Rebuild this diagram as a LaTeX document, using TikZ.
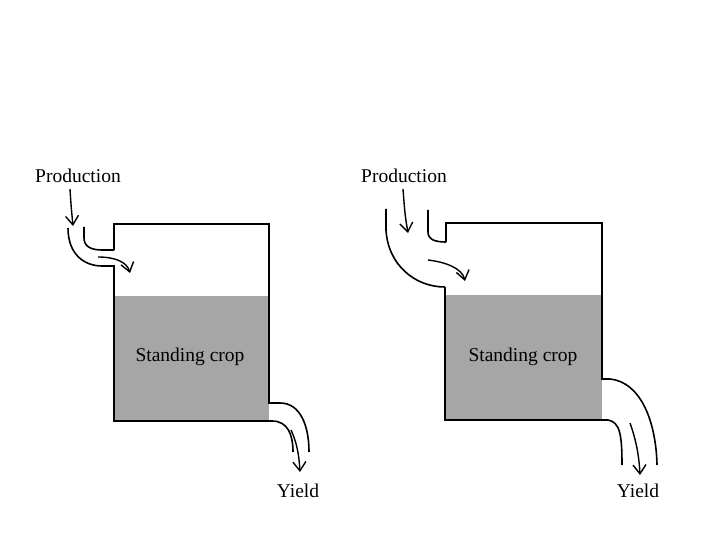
\documentclass[tikz,border=0pt]{standalone}
\usepackage{fontspec}
\setmainfont{Liberation Serif}
\usetikzlibrary{arrows.meta}
\begin{document}
\begin{tikzpicture}[x=1pt,y=-1pt,
  wall/.style={line width=1.6pt,line join=miter},
  flow/.style={line width=1.4pt,-{Straight Barb[length=9pt,width=13pt,line width=1.4pt]}},
  crop/.style={fill=black!35,draw=none},
  lbl/.style={font=\fontsize{19.5}{22}\selectfont,inner sep=1pt}]
\useasboundingbox[fill=white] (0,0) rectangle (720,540);

% ---------------- left diagram ----------------
\fill[crop] (114,296) rectangle (269,421);
\node[lbl] (prodL) at (78,176) {Production};
\node[lbl] (cropL) at (190,357) {Standing crop};
\node[lbl] (yieldL) at (298,491) {Yield};
\coordinate (pinL) at (73,226);
\coordinate (fillL) at (130,273);
\coordinate (outL) at (300,472);
% tank walls
\draw[wall] (114,250) -- (114,224) -- (269,224) -- (269,403) -- (280,403)
  .. controls (300,403) and (309,425) .. (309,452);
\draw[wall] (114,265) -- (114,421) -- (272,421)
  .. controls (288,421) and (293,435) .. (293,452);
% inlet pipe
\draw[wall] (84,227) -- (84,238) .. controls (84,247) and (92,250) .. (102,250) -- (114,250);
\draw[wall] (68,228) .. controls (68,255) and (85,266) .. (102,266) -- (114,266);
% flows
\draw[flow] (prodL.south) ++(-8,5) .. controls (71,205) .. (pinL);
\draw[flow] (98,257) .. controls (115,257) and (127,262) .. (fillL);
\draw[flow] (291,430) .. controls (297,443) and (299,455) .. (outL);

% ---------------- right diagram ----------------
\fill[crop] (445,295) rectangle (602,420);
\node[lbl] (prodR) at (404,176) {Production};
\node[lbl] (cropR) at (523,357) {Standing crop};
\node[lbl] (yieldR) at (638,491) {Yield};
\coordinate (pinR) at (408,233);
\coordinate (fillR) at (465,281);
\coordinate (outR) at (640,475);
% tank walls
\draw[wall] (446,242) -- (446,223) -- (602,223) -- (602,379) -- (610,379)
  .. controls (640,382) and (656,420) .. (657,465);
\draw[wall] (445,287) -- (445,420) -- (608,420)
  .. controls (620,422) and (622,435) .. (622,465);
% inlet pipe
\draw[wall] (428,210) -- (428,232) .. controls (428,240) and (436,242) .. (446,242);
\draw[wall] (386,209) -- (386,230) .. controls (388,265) and (415,287) .. (445,287);
% flows
\draw[flow] (prodR.south) ++(-1,5) .. controls (405,215) .. (pinR);
\draw[flow] (428,260) .. controls (445,262) and (462,268) .. (fillR);
\draw[flow] (630,423) .. controls (636,440) and (639,455) .. (outR);
\end{tikzpicture}
\end{document}
